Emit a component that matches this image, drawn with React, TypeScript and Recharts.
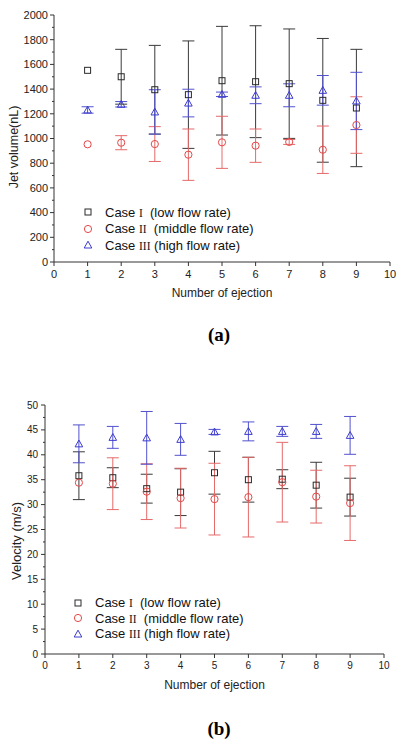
import { ScatterChart, Scatter, XAxis, YAxis, ErrorBar, Legend, Label } from 'recharts';

const ejection = [1, 2, 3, 4, 5, 6, 7, 8, 9];
const ejectionTicks = [0, 1, 2, 3, 4, 5, 6, 7, 8, 9, 10];

// (a) jet volume, nL
const volumeLow = [1552, 1500, 1395, 1355, 1468, 1460, 1444, 1309, 1247];
const volumeLowErr = [0, 222, 359, 435, 440, 453, 443, 501, 475];
const volumeMid = [953, 966, 955, 869, 969, 942, 972, 909, 1109];
const volumeMidErr = [0, 57, 141, 208, 211, 135, 20, 192, 229];
const volumeHigh = [1231, 1277, 1215, 1287, 1358, 1350, 1350, 1390, 1304];
const volumeHighErr = [26, 22, 180, 112, 18, 68, 93, 120, 232];
const volumeTicks = [0, 200, 400, 600, 800, 1000, 1200, 1400, 1600, 1800, 2000];

// (b) velocity, m/s
const velocityLow = [35.8, 35.4, 33.2, 32.5, 36.4, 35.0, 35.1, 33.9, 31.5];
const velocityLowErr = [4.8, 2.0, 2.9, 4.7, 4.3, 4.5, 1.9, 4.6, 3.8];
const velocityMid = [34.4, 34.2, 32.6, 31.3, 31.1, 31.5, 34.5, 31.6, 30.3];
const velocityMidErr = [0, 5.2, 5.6, 6.0, 7.2, 8.0, 8.0, 5.3, 7.5];
const velocityHigh = [42.2, 43.5, 43.4, 43.1, 44.6, 44.7, 44.7, 44.7, 43.9];
const velocityHighErr = [3.8, 2.2, 5.3, 3.2, 0.5, 1.9, 1.0, 1.4, 3.8];
const velocityTicks = [0, 5, 10, 15, 20, 25, 30, 35, 40, 45, 50];

const SANS = '"Liberation Sans", Arial, sans-serif';
const SERIF = '"Liberation Serif", "Times New Roman", serif';

const BLACK = '#2a2a2a';
const RED = '#e44848';
const BLUE = '#3b3bd0';

const rows = (ys: number[], errs: number[]) => ejection.map((x, i) => ({ x, y: ys[i], err: errs[i] }));

// add a minor tick halfway between each pair of labelled ticks
const withMinors = (major: number[]) =>
  major.flatMap((t, i) => (i === 0 ? [t] : [(major[i - 1] + t) / 2, t]));

const Mark = ({ kind, cx, cy, color }: any) => {
  if (kind === 'square') {
    return <rect x={cx - 3} y={cy - 3} width={6} height={6} fill="none" stroke={color} strokeWidth={1} />;
  }
  if (kind === 'circle') {
    return <circle cx={cx} cy={cy} r={3.6} fill="none" stroke={color} strokeWidth={1} />;
  }
  return (
    <polygon
      points={`${cx},${cy - 3.8} ${cx + 3.8},${cy + 3} ${cx - 3.8},${cy + 3}`}
      fill="none"
      stroke={color}
      strokeWidth={1}
    />
  );
};

const YTick = (props: any) => {
  const { x, y, payload, majors, fontSize, gap } = props;
  const ax = x + 6; // tickSize 4 + tickMargin 2
  const major = majors.includes(payload.value);
  return (
    <g>
      <line x1={ax} x2={ax - (major ? 4 : 2)} y1={y} y2={y} stroke="#333" />
      {major && (
        <text x={ax - gap} y={y} dy="0.35em" textAnchor="end" fontSize={fontSize} fill="#222" fontFamily={SANS}>
          {payload.value}
        </text>
      )}
    </g>
  );
};

const legendItems = [
  { kind: 'square', color: BLACK, num: 'I', rest: '  (low flow rate)' },
  { kind: 'circle', color: RED, num: 'II', rest: '  (middle flow rate)' },
  { kind: 'triangle', color: BLUE, num: 'III', rest: ' (high flow rate)' },
];

const LegendBox = ({ rowH }: { rowH: number }) => (
  <div style={{ fontFamily: SANS, fontSize: 13, color: '#111' }}>
    {legendItems.map((it) => (
      <div key={it.num} style={{ display: 'flex', alignItems: 'center', height: rowH, whiteSpace: 'pre' }}>
        <svg width={10} height={10} style={{ marginRight: 12 }}>
          <Mark kind={it.kind} cx={5} cy={5} color={it.color} />
        </svg>
        <span>
          Case <span style={{ fontFamily: SERIF, fontSize: 11.5 }}>{it.num}</span>
          {it.rest}
        </span>
      </div>
    ))}
  </div>
);

type PanelProps = {
  top: number;
  low: any[];
  mid: any[];
  high: any[];
  majors: number[];
  tickFont: number;
  tickGap: number;
  margin: { top: number; right: number; bottom: number; left: number };
  legendLeft: number;
  legendTop: number;
  rowH: number;
};

const Panel = ({ top, low, mid, high, majors, tickFont, tickGap, margin, legendLeft, legendTop, rowH }: PanelProps) => (
  <div style={{ position: 'absolute', left: 0, top }}>
    <ScatterChart width={402} height={310} margin={margin}>
      <XAxis
        type="number"
        dataKey="x"
        domain={[0, 10]}
        ticks={ejectionTicks}
        interval={0}
        height={20}
        tickSize={4}
        tickMargin={4}
        stroke="#333"
        tick={{ fontSize: tickFont, fill: '#222', fontFamily: SANS }}
      >
        <Label value="Number of ejection" position="bottom" offset={6} fontSize={12} fill="#222" fontFamily={SANS} />
      </XAxis>
      <YAxis
        type="number"
        dataKey="y"
        domain={[majors[0], majors[majors.length - 1]]}
        ticks={withMinors(majors)}
        interval={0}
        width={44}
        tickSize={4}
        tickMargin={2}
        tickLine={false}
        stroke="#333"
        tick={(p: any) => <YTick {...p} majors={majors} fontSize={tickFont} gap={tickGap} />}
      />
      <Legend
        layout="vertical"
        align="center"
        verticalAlign="middle"
        wrapperStyle={{ left: legendLeft, top: legendTop }}
        content={() => <LegendBox rowH={rowH} />}
      />
      <Scatter data={low} isAnimationActive={false} shape={(p: any) => <Mark kind="square" cx={p.cx} cy={p.cy} color={BLACK} />}>
        <ErrorBar dataKey="err" direction="y" width={6} stroke="#3a3a3a" strokeWidth={1} />
      </Scatter>
      <Scatter data={mid} isAnimationActive={false} shape={(p: any) => <Mark kind="circle" cx={p.cx} cy={p.cy} color={RED} />}>
        <ErrorBar dataKey="err" direction="y" width={6} stroke="#e66a6a" strokeWidth={1} />
      </Scatter>
      <Scatter data={high} isAnimationActive={false} shape={(p: any) => <Mark kind="triangle" cx={p.cx} cy={p.cy} color={BLUE} />}>
        <ErrorBar dataKey="err" direction="y" width={6} stroke="#5252cf" strokeWidth={1} />
      </Scatter>
    </ScatterChart>
  </div>
);

const AxisTitle = ({ text, cx, cy, size }: { text: string; cx: number; cy: number; size: number }) => (
  <div
    style={{
      position: 'absolute',
      left: cx,
      top: cy,
      transform: 'translate(-50%, -50%) rotate(-90deg)',
      fontFamily: SANS,
      fontSize: size,
      color: '#222',
      whiteSpace: 'nowrap',
    }}
  >
    {text}
  </div>
);

const Tag = ({ text, cy }: { text: string; cy: number }) => (
  <div
    style={{
      position: 'absolute',
      left: 219,
      top: cy,
      transform: 'translate(-50%, -50%)',
      fontFamily: SERIF,
      fontWeight: 'bold',
      fontSize: 19,
      color: '#000',
    }}
  >
    {text}
  </div>
);

export default function App() {
  return (
    <div style={{ position: 'absolute', left: 0, top: 0, width: 402, height: 750, background: '#fff' }}>
      <Panel
        top={0}
        low={rows(volumeLow, volumeLowErr)}
        mid={rows(volumeMid, volumeMidErr)}
        high={rows(volumeHigh, volumeHighErr)}
        majors={volumeTicks}
        tickFont={11}
        tickGap={6}
        margin={{ top: 15, right: 12, bottom: 28, left: 10 }}
        legendLeft={83}
        legendTop={204}
        rowH={16.5}
      />
      <AxisTitle text="Jet volume(nL)" cx={14} cy={147} size={12.5} />
      <Tag text="(a)" cy={335} />

      <Panel
        top={390}
        low={rows(velocityLow, velocityLowErr)}
        mid={rows(velocityMid, velocityMidErr)}
        high={rows(velocityHigh, velocityHighErr)}
        majors={velocityTicks}
        tickFont={10}
        tickGap={7}
        margin={{ top: 15, right: 18, bottom: 26, left: 1 }}
        legendLeft={73}
        legendTop={205}
        rowH={15.5}
      />
      <AxisTitle text="Velocity (m/s)" cx={16} cy={541} size={13} />
      <Tag text="(b)" cy={729} />
    </div>
  );
}
